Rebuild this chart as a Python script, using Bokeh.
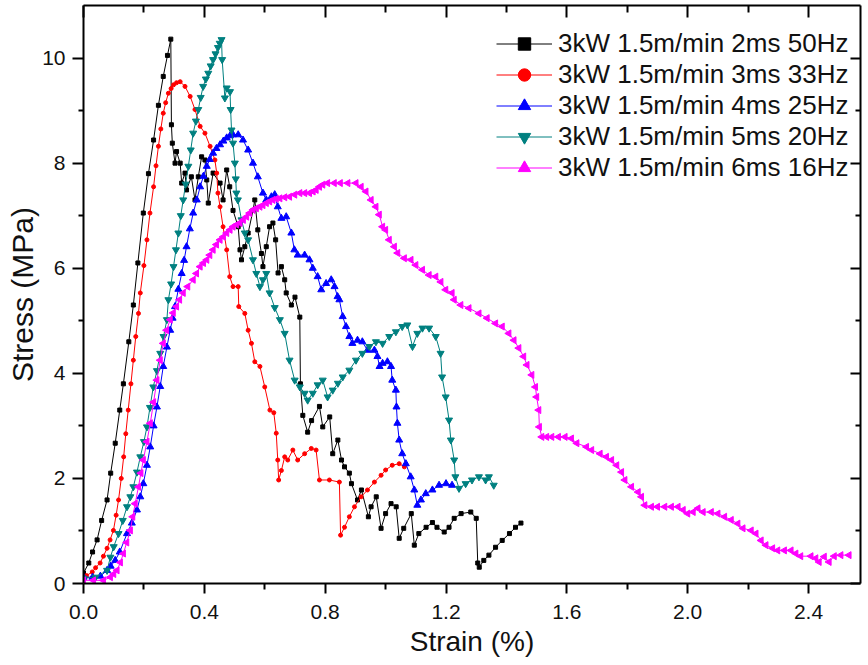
import math
from bokeh.plotting import figure
from bokeh.models import (LinearAxis, FixedTicker, PrintfTickFormatter, Legend, LegendItem,
                          Range1d, CustomLabelingPolicy)
from bokeh.embed import file_html
from bokeh.resources import INLINE

FONT = "Liberation Sans"

# ---- data: (strain %, stress MPa) ----
labels = ["3kW 1.5m/min 2ms 50Hz", "3kW 1.5m/min 3ms 33Hz", "3kW 1.5m/min 4ms 25Hz",
          "3kW 1.5m/min 5ms 20Hz", "3kW 1.5m/min 6ms 16Hz"]

pts_2ms = [(0.0, 0.2), (0.0175, 0.39), (0.03, 0.6), (0.045, 0.83), (0.06, 1.2), (0.078, 1.59),
           (0.09, 2.1), (0.105, 2.67), (0.12, 3.3), (0.132, 3.8), (0.15, 4.6), (0.165, 5.3),
           (0.18, 6.1), (0.198, 7.05), (0.215, 7.8), (0.232, 8.44), (0.248, 9.1), (0.264, 9.65),
           (0.278, 10.05), (0.289, 10.36), (0.291, 8.73), (0.294, 8.38), (0.303, 8.0), (0.308, 8.22),
           (0.32, 8.0), (0.325, 7.62), (0.336, 7.81), (0.341, 7.49), (0.357, 7.74), (0.369, 7.3),
           (0.38, 7.74), (0.391, 8.12), (0.402, 8.06), (0.408, 7.68), (0.413, 7.24), (0.429, 7.81),
           (0.452, 7.62), (0.462, 7.3), (0.474, 7.87), (0.484, 7.55), (0.495, 7.1), (0.512, 6.79),
           (0.518, 6.35), (0.523, 6.16), (0.534, 6.41), (0.545, 6.67), (0.561, 7.1), (0.567, 7.3),
           (0.577, 6.73), (0.589, 6.28), (0.594, 6.03), (0.605, 6.41), (0.616, 6.79), (0.627, 6.86),
           (0.636, 6.54), (0.644, 5.91), (0.655, 6.03), (0.666, 5.78), (0.671, 5.53), (0.688, 5.3),
           (0.70, 5.45), (0.716, 5.07), (0.718, 3.8), (0.726, 3.2), (0.742, 2.88), (0.755, 3.1),
           (0.781, 3.37), (0.792, 2.98), (0.815, 3.17), (0.825, 2.47), (0.842, 2.73), (0.854, 2.35),
           (0.864, 2.22), (0.88, 2.1), (0.887, 1.9), (0.907, 1.59), (0.92, 1.78), (0.943, 1.27),
           (0.952, 1.46), (0.969, 1.65), (0.985, 1.05), (1.0, 1.33), (1.018, 1.52), (1.035, 1.46),
           (1.045, 0.86), (1.06, 1.05), (1.085, 1.33), (1.095, 0.73), (1.11, 0.95), (1.134, 1.07),
           (1.155, 1.16), (1.17, 1.07), (1.194, 0.98), (1.21, 1.07), (1.227, 1.24), (1.25, 1.33),
           (1.282, 1.36), (1.3, 1.24), (1.305, 0.39), (1.31, 0.31), (1.325, 0.44), (1.342, 0.54),
           (1.364, 0.69), (1.386, 0.82), (1.41, 0.95), (1.43, 1.07), (1.448, 1.15)]

pts_3ms = [(0.01, 0.15), (0.029, 0.22), (0.04, 0.3), (0.055, 0.39), (0.066, 0.52), (0.078, 0.67),
           (0.088, 0.83), (0.099, 1.01), (0.108, 1.3), (0.116, 1.59), (0.125, 2.0), (0.133, 2.41),
           (0.14, 2.85), (0.148, 3.3), (0.157, 3.8), (0.165, 4.25), (0.173, 4.7), (0.182, 5.14),
           (0.188, 5.53), (0.2, 6.05), (0.21, 6.54), (0.22, 7.05), (0.232, 7.55), (0.24, 7.95),
           (0.248, 8.32), (0.256, 8.65), (0.264, 8.95), (0.272, 9.15), (0.281, 9.33), (0.29, 9.42),
           (0.298, 9.49), (0.308, 9.53), (0.32, 9.55), (0.336, 9.46), (0.353, 9.27), (0.369, 9.02),
           (0.386, 8.7), (0.402, 8.57), (0.419, 8.32), (0.435, 8.06), (0.441, 7.81), (0.445, 7.43),
           (0.452, 7.17), (0.462, 6.79), (0.474, 6.35), (0.484, 5.84), (0.495, 5.65), (0.512, 5.65),
           (0.514, 5.27), (0.534, 5.14), (0.545, 4.82), (0.556, 4.57), (0.567, 4.22), (0.584, 4.13),
           (0.6, 3.74), (0.617, 3.3), (0.63, 3.25), (0.638, 2.86), (0.643, 2.35), (0.646, 1.97),
           (0.655, 2.15), (0.666, 2.41), (0.676, 2.35), (0.693, 2.54), (0.709, 2.35), (0.732, 2.47),
           (0.754, 2.57), (0.77, 2.54), (0.781, 1.97), (0.814, 1.97), (0.847, 1.93), (0.851, 0.92),
           (0.864, 1.07), (0.88, 1.27), (0.897, 1.46), (0.919, 1.65), (0.94, 1.78), (0.963, 1.93),
           (0.985, 2.06), (1.0, 2.16), (1.022, 2.25), (1.045, 2.28), (1.062, 2.22)]

pts_4ms = [(0.0, 0.12), (0.03, 0.12), (0.056, 0.14), (0.078, 0.25), (0.09, 0.33), (0.105, 0.44),
           (0.12, 0.6), (0.144, 0.95), (0.16, 1.15), (0.177, 1.4), (0.188, 1.65), (0.198, 1.9),
           (0.21, 2.25), (0.221, 2.6), (0.232, 3.0), (0.243, 3.36), (0.254, 3.75), (0.264, 4.13),
           (0.276, 4.5), (0.287, 4.82), (0.295, 5.05), (0.303, 5.27), (0.314, 5.6), (0.325, 5.9),
           (0.333, 6.15), (0.341, 6.41), (0.352, 6.75), (0.363, 7.05), (0.375, 7.3), (0.386, 7.55),
           (0.397, 7.75), (0.408, 7.94), (0.418, 8.07), (0.429, 8.19), (0.44, 8.28), (0.452, 8.35),
           (0.463, 8.42), (0.474, 8.48), (0.485, 8.52), (0.495, 8.54), (0.512, 8.54), (0.528, 8.44),
           (0.545, 8.25), (0.561, 8.0), (0.577, 7.74), (0.594, 7.43), (0.605, 7.3), (0.622, 7.36),
           (0.633, 7.4), (0.643, 7.17), (0.655, 6.95), (0.671, 6.98), (0.688, 6.67), (0.698, 6.35),
           (0.709, 6.25), (0.732, 6.25), (0.748, 6.16), (0.759, 6.0), (0.775, 5.84), (0.787, 5.59),
           (0.803, 5.71), (0.82, 5.78), (0.831, 5.65), (0.841, 5.46), (0.847, 5.4), (0.858, 5.08),
           (0.869, 4.89), (0.88, 4.7), (0.89, 4.57), (0.907, 4.63), (0.923, 4.6), (0.94, 4.44),
           (0.963, 4.44), (0.973, 4.32), (0.98, 4.13), (0.99, 4.19), (1.006, 4.22), (1.018, 4.13),
           (1.022, 3.87), (1.034, 3.68), (1.036, 3.36), (1.039, 3.05), (1.045, 2.73), (1.055, 2.47),
           (1.067, 2.28), (1.083, 2.03), (1.095, 1.78), (1.105, 1.49), (1.117, 1.59), (1.133, 1.71),
           (1.155, 1.78), (1.177, 1.87), (1.2, 1.9), (1.22, 1.87)]

pts_5ms = [(0.0, 0.1), (0.04, 0.12), (0.078, 0.25), (0.089, 0.5), (0.1, 0.7), (0.116, 0.95),
           (0.13, 1.2), (0.144, 1.46), (0.155, 1.65), (0.165, 1.84), (0.177, 2.12), (0.188, 2.41),
           (0.2, 2.7), (0.21, 2.98), (0.22, 3.35), (0.231, 3.74), (0.243, 4.05), (0.254, 4.38),
           (0.265, 4.7), (0.276, 5.02), (0.281, 5.4), (0.29, 5.7), (0.298, 6.03), (0.306, 6.35),
           (0.314, 6.67), (0.322, 7.0), (0.33, 7.3), (0.338, 7.6), (0.347, 7.94), (0.355, 8.25),
           (0.363, 8.57), (0.372, 8.8), (0.38, 9.02), (0.388, 9.25), (0.396, 9.46), (0.405, 9.6),
           (0.413, 9.71), (0.421, 9.85), (0.429, 9.97), (0.437, 10.08), (0.445, 10.2), (0.451, 10.28),
           (0.457, 10.35), (0.459, 9.97), (0.468, 9.24), (0.474, 9.43), (0.485, 9.36), (0.487, 9.02),
           (0.49, 8.63), (0.495, 8.38), (0.501, 8.0), (0.504, 7.7), (0.506, 7.43), (0.511, 7.3),
           (0.523, 6.92), (0.534, 6.67), (0.545, 6.54), (0.561, 6.16), (0.572, 5.9), (0.584, 5.65),
           (0.594, 5.78), (0.605, 5.9), (0.616, 5.53), (0.633, 5.25), (0.65, 5.02), (0.666, 4.76),
           (0.682, 4.25), (0.699, 3.87), (0.716, 3.74), (0.732, 3.62), (0.742, 3.49), (0.759, 3.62),
           (0.775, 3.78), (0.792, 3.87), (0.808, 3.55), (0.825, 3.68), (0.842, 3.81), (0.858, 3.93),
           (0.88, 4.06), (0.902, 4.25), (0.923, 4.38), (0.946, 4.51), (0.968, 4.6), (0.99, 4.57),
           (1.012, 4.7), (1.034, 4.79), (1.055, 4.89), (1.072, 4.92), (1.089, 4.51), (1.105, 4.76),
           (1.122, 4.86), (1.144, 4.86), (1.166, 4.7), (1.182, 4.38), (1.187, 3.93), (1.199, 3.55),
           (1.21, 3.11), (1.216, 2.73), (1.227, 2.35), (1.231, 2.03), (1.243, 1.81), (1.265, 1.9),
           (1.286, 1.97), (1.309, 2.03), (1.331, 1.97), (1.342, 2.03), (1.358, 1.87)]

pts_6ms = [(0.0, 0.06), (0.033, 0.06), (0.066, 0.06), (0.089, 0.12), (0.1, 0.18), (0.111, 0.25),
           (0.122, 0.4), (0.132, 0.57), (0.143, 0.78), (0.155, 1.01), (0.163, 1.27), (0.171, 1.52),
           (0.182, 1.84), (0.19, 2.1), (0.198, 2.35), (0.21, 2.7), (0.221, 3.05), (0.232, 3.45),
           (0.243, 3.87), (0.254, 4.25), (0.264, 4.57), (0.275, 4.82), (0.287, 5.02), (0.297, 5.15),
           (0.308, 5.27), (0.318, 5.4), (0.33, 5.53), (0.345, 5.65), (0.363, 5.78), (0.374, 5.9),
           (0.386, 6.03), (0.397, 6.1), (0.408, 6.16), (0.418, 6.25), (0.429, 6.35), (0.44, 6.45),
           (0.452, 6.54), (0.463, 6.6), (0.474, 6.67), (0.485, 6.73), (0.495, 6.79), (0.507, 6.83),
           (0.518, 6.86), (0.529, 6.92), (0.54, 6.98), (0.55, 7.05), (0.561, 7.11), (0.572, 7.14),
           (0.584, 7.17), (0.594, 7.2), (0.605, 7.24), (0.616, 7.27), (0.627, 7.3), (0.638, 7.32),
           (0.65, 7.33), (0.666, 7.35), (0.682, 7.36), (0.699, 7.4), (0.716, 7.43), (0.732, 7.43),
           (0.748, 7.43), (0.76, 7.46), (0.77, 7.49), (0.781, 7.55), (0.792, 7.59), (0.808, 7.62),
           (0.83, 7.62), (0.85, 7.62), (0.875, 7.62), (0.902, 7.62), (0.919, 7.55), (0.935, 7.46),
           (0.952, 7.3), (0.968, 7.17), (0.979, 7.02), (0.99, 6.79), (1.0, 6.73), (1.012, 6.54),
           (1.029, 6.41), (1.04, 6.29), (1.062, 6.19), (1.084, 6.16), (1.1, 6.06), (1.122, 5.97),
           (1.144, 5.87), (1.166, 5.84), (1.183, 5.74), (1.199, 5.59), (1.22, 5.53), (1.227, 5.4),
           (1.249, 5.3), (1.276, 5.24), (1.309, 5.14), (1.336, 5.05), (1.364, 4.95), (1.386, 4.89),
           (1.408, 4.76), (1.425, 4.63), (1.441, 4.48), (1.457, 4.32), (1.468, 4.16), (1.484, 3.97),
           (1.496, 3.74), (1.5, 3.55), (1.507, 3.3), (1.509, 2.98), (1.517, 2.79), (1.533, 2.79),
           (1.55, 2.79), (1.572, 2.79), (1.594, 2.79), (1.615, 2.76), (1.633, 2.67), (1.665, 2.6),
           (1.682, 2.54), (1.71, 2.47), (1.731, 2.41), (1.748, 2.35), (1.765, 2.25), (1.781, 2.12),
           (1.792, 1.97), (1.814, 1.84), (1.836, 1.74), (1.847, 1.65), (1.858, 1.49), (1.88, 1.46),
           (1.9, 1.46), (1.924, 1.46), (1.946, 1.46), (1.968, 1.46), (1.985, 1.4), (2.0, 1.33),
           (2.018, 1.36), (2.034, 1.43), (2.051, 1.36), (2.078, 1.36), (2.1, 1.33), (2.122, 1.27),
           (2.144, 1.21), (2.166, 1.14), (2.183, 1.05), (2.21, 1.01), (2.226, 0.95), (2.243, 0.82),
           (2.259, 0.73), (2.281, 0.67), (2.298, 0.63), (2.32, 0.63), (2.342, 0.63), (2.358, 0.57),
           (2.374, 0.52), (2.408, 0.52), (2.424, 0.48), (2.435, 0.41), (2.452, 0.51), (2.468, 0.41),
           (2.485, 0.52), (2.507, 0.54), (2.534, 0.54)]

x_ticks = [0.0, 0.4, 0.8, 1.2, 1.6, 2.0, 2.4]
x_minor = [0.2, 0.6, 1.0, 1.4, 1.8, 2.2, 2.6]
y_ticks = [0, 2, 4, 6, 8, 10]
y_minor = [1, 3, 5, 7, 9]

series = [
    (pts_2ms, "#000000", "square", 4, 0.0),
    (pts_3ms, "#FF0000", "circle", 4, 0.0),
    (pts_4ms, "#0000FF", "triangle", 7, 0.0),
    (pts_5ms, "#008080", "inverted_triangle", 7, 0.0),
    (pts_6ms, "#FF00FF", "triangle", 7, math.pi / 2),
]

p = figure(width=864, height=661, output_backend="svg", toolbar_location=None,
           x_range=Range1d(0, 2.572), y_range=Range1d(0, 11.0),
           min_border_left=83, min_border_right=0, min_border_top=5, min_border_bottom=78,
           x_axis_label="Strain (%)", y_axis_label="Stress (MPa)")
p.grid.visible = False
p.outline_line_color = None
p.background_fill_color = "white"
p.border_fill_color = "white"

xt = FixedTicker(ticks=x_ticks, minor_ticks=x_minor)
yt = FixedTicker(ticks=y_ticks, minor_ticks=y_minor)


def style(ax, tin, tout, mtin, mtout):
    ax.axis_line_width = 2
    ax.axis_line_color = "black"
    ax.major_tick_line_width = 2
    ax.minor_tick_line_width = 2
    ax.major_tick_line_color = "black"
    ax.minor_tick_line_color = "black"
    ax.major_tick_in = tin
    ax.major_tick_out = tout
    ax.minor_tick_in = mtin
    ax.minor_tick_out = mtout
    ax.major_label_text_font = FONT
    ax.major_label_text_font_size = "21px"
    ax.major_label_text_color = "#111111"
    ax.axis_label_text_font = FONT
    ax.axis_label_text_font_style = "normal"
    ax.axis_label_text_color = "#111111"


xa = p.xaxis[0]
xa.ticker = xt
xa.formatter = PrintfTickFormatter(format="%.1f")
style(xa, 0, 10, 0, 6)
xa.major_label_standoff = 11
xa.axis_label_text_font_size = "28px"
xa.axis_label_standoff = 4

ya = p.yaxis[0]
ya.ticker = yt
ya.formatter = PrintfTickFormatter(format="%d")
style(ya, 0, 11, 0, 5)
ya.major_label_standoff = 7
ya.axis_label_text_font_size = "30px"
ya.axis_label_standoff = 0

# top and right frame axes: inward ticks, no labels shown
hide = CustomLabelingPolicy(code="for (const i of indices) { indices.unset(i) }\nreturn indices")
top = LinearAxis(ticker=xt, major_label_policy=hide)
style(top, 12, 0, 7, 0)
top.major_label_text_font_size = "1px"
top.major_label_standoff = 0
p.add_layout(top, "above")
right = LinearAxis(ticker=yt, major_label_policy=hide)
style(right, 10, 0, 5, 0)
right.major_label_text_font_size = "1px"
right.major_label_standoff = 0
p.add_layout(right, "right")

items = []
for (pts, col, mk, sz, ang), lab in zip(series, labels):
    xs = [a for a, b in pts]
    ys = [b for a, b in pts]
    l = p.line(xs, ys, line_color=col, line_width=1)
    s = p.scatter(xs, ys, marker=mk, size=sz, angle=ang, fill_color=col, line_color=col)
    items.append(LegendItem(label=lab, renderers=[l, s]))

legend = Legend(items=items, location=(413, 400))
legend.label_text_font = FONT
legend.label_text_font_size = "26px"
legend.label_text_color = "#111111"
legend.label_height = 31
legend.glyph_height = 31
legend.glyph_width = 56
legend.label_standoff = 6
legend.spacing = 0
legend.padding = 0
legend.margin = 0
legend.border_line_alpha = 0
legend.background_fill_alpha = 0
p.add_layout(legend)

open("out.html", "w").write(file_html(p, INLINE))
